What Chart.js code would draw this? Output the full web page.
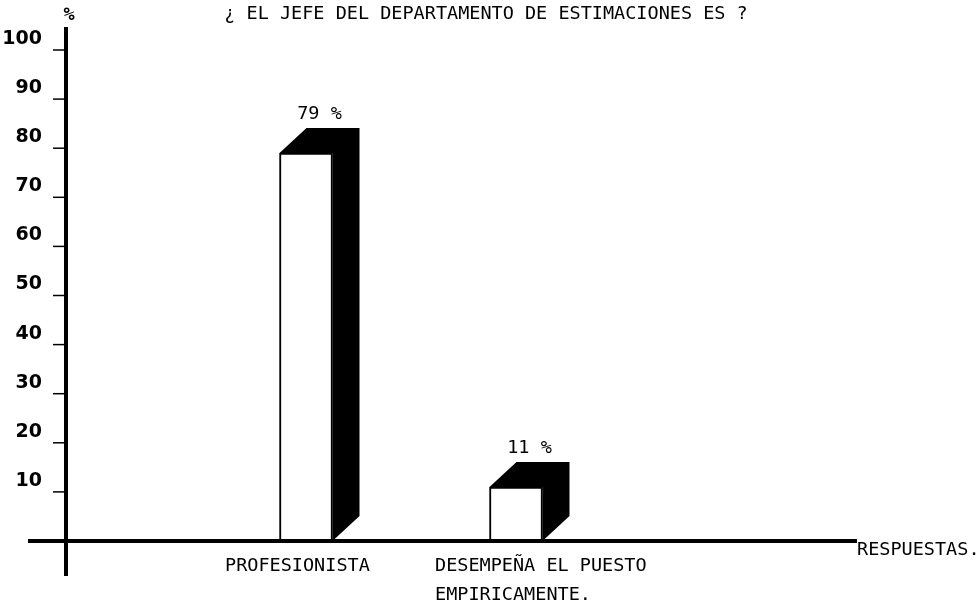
<!DOCTYPE html>
<html>
<head>
<meta charset="utf-8">
<script src="https://cdn.jsdelivr.net/npm/chart.js@4/dist/chart.umd.min.js"></script>
<style>
  html, body { margin: 0; padding: 0; background: #fff; }
  #wrap { width: 980px; height: 608px; }
</style>
</head>
<body>
<div id="wrap"><canvas id="myBarChart" width="980" height="608"></canvas></div>
<script>
// data
var categories = ['PROFESIONISTA', ['DESEMPEÑA EL PUESTO', 'EMPIRICAMENTE.']];
var values = [79, 11];
var valueLabels = ['79 %', '11 %'];
var yTicks = [10, 20, 30, 40, 50, 60, 70, 80, 90, 100];

var titleText = '¿ EL JEFE DEL DEPARTAMENTO DE ESTIMACIONES ES ?';
var yUnit = '%';
var xName = 'RESPUESTAS.';

// look
var MONO = '18.5px "DejaVu Sans Mono", monospace';
var TICKFONT = 'bold 19px "DejaVu Sans", sans-serif';
var AXIS_X = 66;      // where the vertical axis is drawn
var DX = 27, DY = 25; // depth of the 3d blocks

var drawExtras = {
    id: 'drawExtras',
    afterDatasetsDraw: function(chart) {
        var ctx = chart.ctx;
        var area = chart.chartArea;
        var yScale = chart.scales.y;
        var meta = chart.getDatasetMeta(0);
        ctx.save();

        // 3d top and side of each bar
        meta.data.forEach(function(bar, i) {
            var p = bar.getProps(['x', 'y', 'base', 'width'], true);
            var x0 = p.x - p.width / 2, x1 = p.x + p.width / 2;
            ctx.fillStyle = '#000';
            ctx.beginPath();
            ctx.moveTo(x0, p.y);
            ctx.lineTo(x0 + DX, p.y - DY);
            ctx.lineTo(x1 + DX, p.y - DY);
            ctx.lineTo(x1 + DX, p.base - DY);
            ctx.lineTo(x1, p.base);
            ctx.lineTo(x1, p.y);
            ctx.closePath();
            ctx.fill();

            // value over the block
            ctx.font = MONO;
            ctx.textAlign = 'center';
            ctx.textBaseline = 'middle';
            ctx.fillText(valueLabels[i], p.x + DX / 2, p.y - DY - 14);

            // category text under the axis, left aligned
            var lines = Array.isArray(categories[i]) ? categories[i] : [categories[i]];
            ctx.textAlign = 'left';
            lines.forEach(function(line, j) {
                ctx.fillText(line, p.x - 81, area.bottom + 25 + j * 29);
            });
        });

        var y0 = yScale.getPixelForValue(0);

        // axes
        ctx.strokeStyle = '#000';
        ctx.lineCap = 'butt';
        ctx.lineWidth = 4;
        ctx.beginPath();
        ctx.moveTo(AXIS_X, area.top - 23);
        ctx.lineTo(AXIS_X, y0 + 35);
        ctx.stroke();
        ctx.beginPath();
        ctx.moveTo(28, y0);
        ctx.lineTo(857, y0);
        ctx.stroke();

        // ticks and their labels (labels sit above the tick)
        ctx.lineWidth = 1.5;
        ctx.font = TICKFONT;
        ctx.textAlign = 'right';
        ctx.textBaseline = 'middle';
        yTicks.forEach(function(v) {
            var ty = yScale.getPixelForValue(v);
            ctx.beginPath();
            ctx.moveTo(AXIS_X - 13, ty);
            ctx.lineTo(AXIS_X, ty);
            ctx.stroke();
            ctx.fillText(String(v), 42, ty - 11);
        });

        // title, unit and axis name
        ctx.font = MONO;
        ctx.textAlign = 'center';
        ctx.fillText(titleText, 486, 14);
        ctx.font = 'bold 18.5px "DejaVu Sans Mono", monospace';
        ctx.fillText(yUnit, AXIS_X + 3, 15);
        ctx.font = MONO;
        ctx.textAlign = 'left';
        ctx.fillText(xName, 857, y0 + 9);

        ctx.restore();
    }
};

new Chart(document.getElementById('myBarChart'), {
    type: 'bar',
    data: {
        labels: categories,
        datasets: [{
            data: values,
            backgroundColor: '#fff',
            borderColor: '#000',
            borderWidth: 2,
            borderSkipped: 'bottom',
            barThickness: 53
        }]
    },
    options: {
        responsive: false,
        animation: false,
        layout: { padding: { left: 201, right: 359, top: 50, bottom: 67 } },
        scales: {
            x: { display: false },
            y: { display: false, min: 0, max: 100 }
        },
        plugins: {
            legend: { display: false },
            tooltip: { enabled: false }
        }
    },
    plugins: [drawExtras]
});
</script>
</body>
</html>
